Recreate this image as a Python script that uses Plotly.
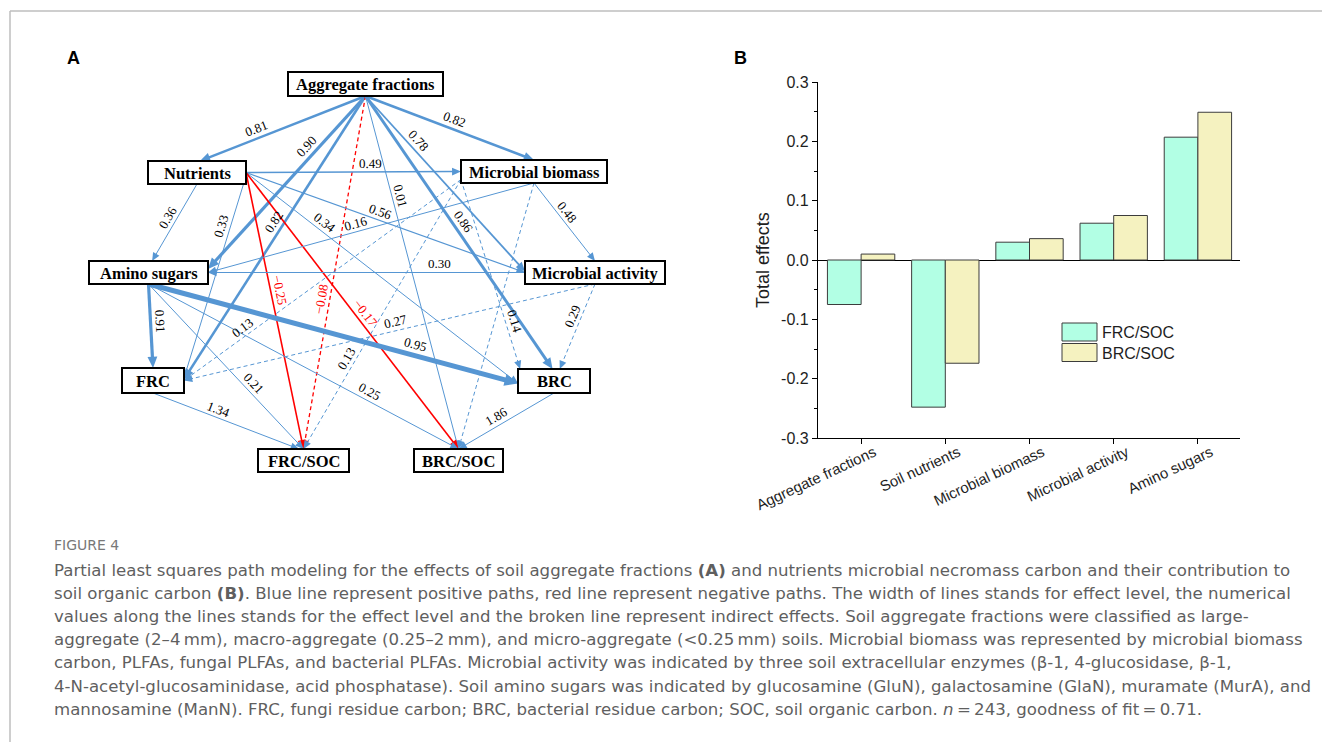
import math
import plotly.graph_objects as go

W, H = 1322, 742

# ---------------- data ----------------
categories = ["Aggregate fractions", "Soil nutrients", "Microbial biomass",
              "Microbial activity", "Amino sugars"]
frc_soc = [-0.075, -0.248, 0.030, 0.062, 0.207]
brc_soc = [0.010, -0.174, 0.036, 0.075, 0.249]
series_names = ["FRC/SOC", "BRC/SOC"]
y_tick_vals = [-0.3, -0.2, -0.1, 0.0, 0.1, 0.2, 0.3]
y_tick_text = ["-0.3", "-0.2", "-0.1", "0.0", "0.1", "0.2", "0.3"]

node_labels = ["Aggregate fractions", "Nutrients", "Microbial biomass", "Amino sugars",
               "Microbial activity", "FRC", "BRC", "FRC/SOC", "BRC/SOC"]

edge_from = ["Aggregate fractions", "Aggregate fractions", "Aggregate fractions",
             "Aggregate fractions", "Aggregate fractions", "Aggregate fractions",
             "Aggregate fractions", "Aggregate fractions",
             "Nutrients", "Nutrients", "Nutrients", "Nutrients", "Nutrients",
             "Nutrients", "Nutrients",
             "Microbial biomass", "Microbial biomass", "Microbial biomass",
             "Microbial biomass", "Microbial biomass", "Microbial biomass",
             "Microbial activity", "Microbial activity", "Microbial activity",
             "Amino sugars", "Amino sugars", "Amino sugars", "Amino sugars",
             "FRC", "BRC"]
edge_to = ["Nutrients", "Microbial biomass", "Amino sugars", "FRC", "FRC/SOC", "BRC/SOC",
           "Microbial activity", "BRC",
           "Microbial biomass", "Microbial activity", "BRC", "Amino sugars", "FRC",
           "FRC/SOC", "BRC/SOC",
           "Microbial activity", "Amino sugars", "FRC", "FRC/SOC", "BRC", "BRC/SOC",
           "FRC", "BRC", "Amino sugars",
           "FRC", "BRC", "FRC/SOC", "BRC/SOC",
           "FRC/SOC", "BRC/SOC"]
edge_coef = [0.81, 0.82, 0.90, 0.82, -0.08, 0.01, 0.78, 0.86,
             0.49, 0.56, 0.34, 0.36, 0.33, -0.25, -0.17,
             0.48, 0.16, 0.13, 0.13, 0.14, None,
             0.27, 0.29, 0.30,
             0.91, 0.95, 0.21, 0.25,
             1.34, 1.86]
edge_indirect = [False, False, False, False, True, False, False, False,
                 False, False, False, False, False, False, False,
                 False, False, True, True, True, True,
                 True, True, False,
                 False, False, False, False,
                 False, False]

caption_title = "FIGURE 4"
caption_lines = [
    "Partial least squares path modeling for the effects of soil aggregate fractions <b>(A)</b> and nutrients microbial necromass carbon and their contribution to",
    "soil organic carbon <b>(B)</b>. Blue line represent positive paths, red line represent negative paths. The width of lines stands for effect level, the numerical",
    "values along the lines stands for the effect level and the broken line represent indirect effects. Soil aggregate fractions were classified as large-",
    "aggregate (2\u20134\u2009mm), macro-aggregate (0.25\u20132\u2009mm), and micro-aggregate (&lt;0.25\u2009mm) soils. Microbial biomass was represented by microbial biomass",
    "carbon, PLFAs, fungal PLFAs, and bacterial PLFAs. Microbial activity was indicated by three soil extracellular enzymes (\u03b2-1, 4-glucosidase, \u03b2-1,",
    "4-N-acetyl-glucosaminidase, acid phosphatase). Soil amino sugars was indicated by glucosamine (GluN), galactosamine (GlaN), muramate (MurA), and",
    "mannosamine (ManN). FRC, fungi residue carbon; BRC, bacterial residue carbon; SOC, soil organic carbon. <i>n</i>\u2009=\u2009243, goodness of fit\u2009=\u20090.71.",
]

# ---------------- layout: positions & styles ----------------
node_box = {
    "Aggregate fractions": (288, 72, 443, 96),
    "Nutrients": (148, 161, 246, 184),
    "Microbial biomass": (461, 160, 607, 183),
    "Amino sugars": (89, 261, 208, 284),
    "Microbial activity": (525, 261, 665, 284),
    "FRC": (122, 368, 184, 393),
    "BRC": (518, 369, 590, 393),
    "FRC/SOC": (258, 449, 349, 472),
    "BRC/SOC": (414, 449, 503, 472),
}
edge_src_anchor = [(0.5, 1)] * 8 + [(1, 0.5), (1, 0.5), (1, 0.5), (0.5, 1), (1, 0.65), (1, 0.5), (1, 0.5)] + \
                  [(0.5, 1), (0.5, 1), (0.0, 0.85), (0.0, 0.85), (0.0, 0.85), (0.5, 1)] + \
                  [(0.5, 1), (0.5, 1), (0, 0.5)] + [(0.5, 1)] * 4 + [(0.5, 1), (0.5, 1)]
edge_dst_anchor = [(0.53, 0), (0.5, 0), (1, 0.35), (1, 0.45), (0.5, 0), (0.5, 0), (0, 0.45), (0.48, 0),
                   (0, 0.5), (0, 0.5), (0, 0.6), (0.53, 0), (1, 0.4), (0.5, 0), (0.5, 0),
                   (0.5, 0), (1, 0.5), (1, 0.5), (0.5, 0), (0.03, 0), (0.5, 0),
                   (1, 0.5), (0.58, 0), (1, 0.5),
                   (0.5, 0), (0, 0.6), (0.5, 0), (0.5, 0),
                   (0.45, 0), (0.5, 0)]
edge_width = [2.5, 2.5, 3.2, 2.6, 1.3, 1.0, 1.8, 3.0,
              1.5, 1.2, 1.0, 1.0, 1.0, 1.6, 1.6,
              1.0, 1.0, 1.0, 1.0, 1.0, 1.0,
              1.0, 1.0, 1.2,
              3.2, 5.0, 1.0, 1.0,
              1.0, 1.0]
edge_label_t = [0.64, 0.51, 0.33, 0.46, 0.58, 0.29, 0.29, 0.48,
                0.58, 0.47, 0.27, 0.49, 0.26, 0.43, 0.53,
                0.44, 0.54, 0.77, 0.68, 0.76, 0.5,
                0.48, 0.42, 0.27,
                0.45, 0.715, 0.64, 0.70,
                0.43, 0.56]
BLUE = "rgb(86,150,211)"
RED = "rgb(255,0,0)"
SERIF = "Liberation Serif"
SANS = "Liberation Sans"

shapes = []
annotations = []


def anchor(name, a):
    x0, y0, x1, y1 = node_box[name]
    return x0 + a[0] * (x1 - x0), y0 + a[1] * (y1 - y0)


# edges
for i in range(len(edge_from)):
    sx, sy = anchor(edge_from[i], edge_src_anchor[i])
    tx, ty = anchor(edge_to[i], edge_dst_anchor[i])
    coef = edge_coef[i]
    col = RED if (coef is not None and coef < 0) else BLUE
    w = edge_width[i]
    dx, dy = tx - sx, ty - sy
    L = math.hypot(dx, dy)
    ux, uy = dx / L, dy / L
    hl = 7 + 1.3 * w
    hw = 3 + 0.6 * w
    bx, by = tx - ux * hl, ty - uy * hl
    dash = "4px,3px" if edge_indirect[i] else "solid"
    shapes.append(dict(type="line", xref="x", yref="y", x0=sx, y0=sy, x1=bx + ux * 1, y1=by + uy * 1,
                       line=dict(color=col, width=w, dash=dash), layer="above"))
    px, py = -uy, ux
    path = "M {:.2f},{:.2f} L {:.2f},{:.2f} L {:.2f},{:.2f} Z".format(
        tx, ty, bx + px * hw, by + py * hw, bx - px * hw, by - py * hw)
    shapes.append(dict(type="path", xref="x", yref="y", path=path, fillcolor=col,
                       line=dict(width=0), layer="above"))
    if coef is not None:
        t = edge_label_t[i]
        mx, my = sx + t * dx, sy + t * dy
        n1 = (uy, -ux)
        n2 = (-uy, ux)
        if abs(n1[1]) < 1e-3 and abs(n2[1]) < 1e-3:
            n = n1 if n1[0] < 0 else n2
        else:
            n = n1 if n1[1] < 0 else n2
        off = 8 + w * 0.6
        lx, ly = mx + n[0] * off, my + n[1] * off
        ang = math.degrees(math.atan2(dy, dx))
        if ang > 90:
            ang -= 180
        if ang <= -90:
            ang += 180
        txt = ("\u2212%.2f" % abs(coef)) if coef < 0 else "%.2f" % coef
        annotations.append(dict(x=lx, y=ly, xref="x", yref="y", text=txt, showarrow=False,
                                textangle=ang, font=dict(family=SERIF, size=13,
                                                         color=RED if coef < 0 else "black"),
                                xanchor="center", yanchor="middle"))

# node boxes
for name in node_labels:
    x0, y0, x1, y1 = node_box[name]
    shapes.append(dict(type="rect", xref="x", yref="y", x0=x0, y0=y0, x1=x1, y1=y1,
                       fillcolor="white", line=dict(color="black", width=2), layer="above"))
    annotations.append(dict(x=(x0 + x1) / 2, y=(y0 + y1) / 2 + 0.5, xref="x", yref="y",
                            text="<b>%s</b>" % name, showarrow=False,
                            font=dict(family=SERIF, size=16.5, color="black"),
                            xanchor="center", yanchor="middle"))

# frame
shapes.append(dict(type="line", xref="x", yref="y", x0=10, y0=11, x1=W, y1=11,
                   line=dict(color="rgb(190,190,190)", width=1.5)))
shapes.append(dict(type="line", xref="x", yref="y", x0=10, y0=11, x1=10, y1=H,
                   line=dict(color="rgb(190,190,190)", width=1.5)))

# panel letters
annotations.append(dict(x=73, y=58, xref="x", yref="y", text="<b>A</b>", showarrow=False,
                        font=dict(family=SANS, size=18, color="black")))
annotations.append(dict(x=740, y=58, xref="x", yref="y", text="<b>B</b>", showarrow=False,
                        font=dict(family=SANS, size=18, color="black")))

# legend for panel B (manual)
FRC_COL = "rgb(178,255,228)"
BRC_COL = "rgb(245,242,192)"
BAR_LINE = "rgb(60,60,60)"
for k, (nm, col) in enumerate(zip(series_names, [FRC_COL, BRC_COL])):
    y0 = 323 + k * 20.5
    shapes.append(dict(type="rect", xref="x", yref="y", x0=1062, x1=1097, y0=y0, y1=y0 + 18,
                       fillcolor=col, line=dict(color=BAR_LINE, width=1)))
    annotations.append(dict(x=1100, y=y0 + 9.5, xref="x", yref="y", text=nm, showarrow=False,
                            xanchor="left", yanchor="middle",
                            font=dict(family=SANS, size=16, color="rgb(30,30,30)")))

# y-axis title panel B
annotations.append(dict(x=763, y=260, xref="x", yref="y", text="Total effects", showarrow=False,
                        textangle=-90, xanchor="center", yanchor="middle",
                        font=dict(family=SANS, size=18, color="rgb(30,30,30)")))

# caption
CAP_FONT = "DejaVu Sans"
annotations.append(dict(x=52, y=545, xref="x", yref="y", text=caption_title, showarrow=False,
                        xanchor="left", yanchor="middle",
                        font=dict(family=CAP_FONT, size=14, color="rgb(120,120,120)")))
for k, line in enumerate(caption_lines):
    annotations.append(dict(x=52, y=570 + k * 23.2, xref="x", yref="y", text=line, showarrow=False,
                            xanchor="left", yanchor="middle",
                            font=dict(family=CAP_FONT, size=16.6, color="rgb(95,95,95)")))

fig = go.Figure()
fig.add_trace(go.Bar(x=categories, y=frc_soc, name=series_names[0], xaxis="x2", yaxis="y2",
                     marker=dict(color=FRC_COL, line=dict(color=BAR_LINE, width=1)), showlegend=False))
fig.add_trace(go.Bar(x=categories, y=brc_soc, name=series_names[1], xaxis="x2", yaxis="y2",
                     marker=dict(color=BRC_COL, line=dict(color=BAR_LINE, width=1)), showlegend=False))

px_l, px_r, px_t, px_b = 818, 1240, 82, 438
fig.update_layout(
    template="none",
    width=W, height=H, margin=dict(l=0, r=0, t=0, b=0, pad=0, autoexpand=False),
    paper_bgcolor="white", plot_bgcolor="rgba(0,0,0,0)", showlegend=False,
    xaxis=dict(range=[0, W], domain=[0, 1], visible=False, fixedrange=True, automargin=False),
    yaxis=dict(range=[H, 0], domain=[0, 1], visible=False, fixedrange=True, automargin=False),
    xaxis2=dict(domain=[px_l / W, px_r / W], anchor="y2", range=[-0.512, 4.5], automargin=False,
                showline=True, linecolor="black", linewidth=1.3, ticks="outside", ticklen=5,
                tickcolor="black", tickangle=-25, showgrid=False, zeroline=False,
                ticklabelshift=13, ticklabelstandoff=-6,
                tickfont=dict(family=SANS, size=15, color="rgb(30,30,30)")),
    yaxis2=dict(domain=[1 - px_b / H, 1 - px_t / H], anchor="x2", range=[-0.3, 0.3], automargin=False,
                tickvals=y_tick_vals, ticktext=y_tick_text, ticks="outside", ticklen=5,
                tickcolor="black", showline=True, linecolor="black", linewidth=1.3,
                showgrid=False, zeroline=True, zerolinecolor="black", zerolinewidth=1.3,
                tickfont=dict(family=SANS, size=16, color="rgb(30,30,30)"),
                minor=dict(dtick=0.05, ticks="outside", ticklen=3, tickcolor="black", showgrid=False)),
    barmode="group", bargap=0.2, bargroupgap=0,
    shapes=shapes, annotations=annotations,
)
fig.write_html("out.html")
